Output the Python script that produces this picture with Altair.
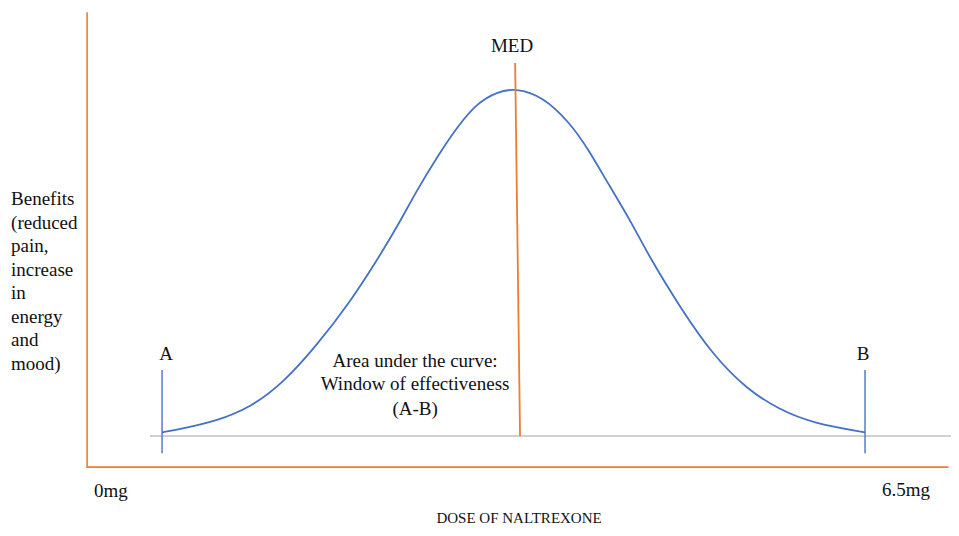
import altair as alt
import pandas as pd

# ---- data ----
# dose in mg (0mg .. 6.5mg), benefit relative: 0 = baseline, 1 = peak (MED)
curve_dose = [0.408, 0.580, 0.857, 1.127, 1.396, 1.674, 1.943, 2.164, 2.327, 2.490,
              2.654, 2.817, 2.980, 3.144, 3.291, 3.519, 3.740, 3.878, 4.066, 4.230,
              4.393, 4.638, 4.907, 5.185, 5.454, 5.724, 6.148]
curve_benefit = [0.011, 0.022, 0.044, 0.082, 0.152, 0.262, 0.385, 0.506, 0.601, 0.707,
                 0.802, 0.888, 0.957, 0.989, 1.000, 0.976, 0.899, 0.830, 0.716, 0.621,
                 0.511, 0.370, 0.232, 0.134, 0.075, 0.037, 0.011]

window_names = ["A", "B"]
window_dose = [0.408, 6.148]
window_tick_top = [0.190, 0.190]
window_tick_bottom = [-0.049, -0.049]
window_label_dose = [0.441, 6.132]
window_label_benefit = [0.218, 0.218]

med_name = "MED"
med_dose = [3.291, 3.331]          # top, bottom of the MED line
med_benefit = [1.072, 0.0]
med_label_dose = 3.266
med_label_benefit = 1.103

baseline_dose = [0.310, 6.85]
baseline_benefit = [0.0, 0.0]

axis_frame_dose = [-0.204, -0.204, 6.83]       # top of y-axis, corner, end of x-axis
axis_frame_benefit = [1.218, -0.089, -0.089]

note_lines = ["Area under the curve:", "Window of effectiveness", "(A-B)"]
note_dose = 2.474
note_benefit = [0.198, 0.132, 0.060]

ylabel_lines = ["Benefits", "(reduced", "pain,", "increase", "in", "energy", "and", "mood)"]
ylabel_dose = -0.825
ylabel_benefit = [0.664, 0.596, 0.529, 0.461, 0.394, 0.326, 0.259, 0.191]

tick_labels = ["0mg", "6.5mg"]
tick_label_dose = [-0.147, 6.287]
tick_label_benefit = [-0.175, -0.172]

xtitle = "DOSE OF NALTREXONE"
xtitle_dose = 3.323
xtitle_benefit = -0.249

# ---- tables ----
curve_df = pd.DataFrame({"dose": curve_dose, "benefit": curve_benefit})
ticks_df = pd.DataFrame({"name": window_names, "dose": window_dose,
                         "top": window_tick_top, "bottom": window_tick_bottom})
win_lab_df = pd.DataFrame({"name": window_names, "dose": window_label_dose,
                           "benefit": window_label_benefit})
med_df = pd.DataFrame({"dose": [med_dose[0]], "benefit": [med_benefit[0]],
                       "dose2": [med_dose[1]], "benefit2": [med_benefit[1]]})
med_lab_df = pd.DataFrame({"name": [med_name], "dose": [med_label_dose],
                           "benefit": [med_label_benefit]})
base_df = pd.DataFrame({"dose": [baseline_dose[0]], "benefit": [baseline_benefit[0]],
                        "dose2": [baseline_dose[1]], "benefit2": [baseline_benefit[1]]})
frame_df = pd.DataFrame({"dose": axis_frame_dose, "benefit": axis_frame_benefit,
                         "order": list(range(len(axis_frame_dose)))})
note_df = pd.DataFrame({"text": note_lines, "dose": [note_dose] * len(note_lines),
                        "benefit": note_benefit})
ylab_df = pd.DataFrame({"text": ylabel_lines, "dose": [ylabel_dose] * len(ylabel_lines),
                        "benefit": ylabel_benefit})
tlab_df = pd.DataFrame({"text": tick_labels, "dose": tick_label_dose,
                        "benefit": tick_label_benefit})
xt_df = pd.DataFrame({"text": [xtitle], "dose": [xtitle_dose], "benefit": [xtitle_benefit]})

xs = alt.Scale(domain=[-0.85, 6.85], nice=False, zero=False)
ys = alt.Scale(domain=[-0.264, 1.23], nice=False, zero=False)
X = alt.X("dose:Q", scale=xs, axis=None)
Y = alt.Y("benefit:Q", scale=ys, axis=None)

FONT = "Liberation Serif"
BLUE = "#4472C4"
TICKBLUE = "#5B85D0"
ORANGE = "#ED7D31"
GRAY = "#D0D0D0"

frame = alt.Chart(frame_df).mark_line(color=ORANGE, strokeWidth=1.6).encode(
    x=X, y=Y, order="order:Q")
base = alt.Chart(base_df).mark_rule(color=GRAY, strokeWidth=2).encode(
    x=X, y=Y, x2="dose2:Q", y2="benefit2:Q")
ticks = alt.Chart(ticks_df).mark_rule(color=TICKBLUE, strokeWidth=1.6).encode(
    x=X, y=alt.Y("top:Q", scale=ys, axis=None), y2="bottom:Q")
curve = alt.Chart(curve_df).mark_line(color=BLUE, strokeWidth=1.8,
                                      interpolate="basis").encode(x=X, y=Y)
med = alt.Chart(med_df).mark_rule(color=ORANGE, strokeWidth=1.8).encode(
    x=X, y=Y, x2="dose2:Q", y2="benefit2:Q")

def texts(df, field, size, align):
    return alt.Chart(df).mark_text(font=FONT, fontSize=size, align=align,
                                   baseline="alphabetic", color="#111111").encode(
        x=X, y=Y, text=f"{field}:N")

layers = [
    frame, base, ticks, curve, med,
    texts(win_lab_df, "name", 19, "center"),
    texts(med_lab_df, "name", 19, "center"),
    texts(note_df, "text", 19, "center"),
    texts(ylab_df, "text", 19, "left"),
    texts(tlab_df, "text", 19, "left"),
    texts(xt_df, "text", 15, "center"),
]

chart = alt.layer(*layers).properties(
    width=943, height=520,
    autosize=alt.AutoSizeParams(type="none"),
    padding=0,
    background="white",
).configure_view(stroke=None)

chart.save("out.html", embed_options={"renderer": "svg", "actions": False})
